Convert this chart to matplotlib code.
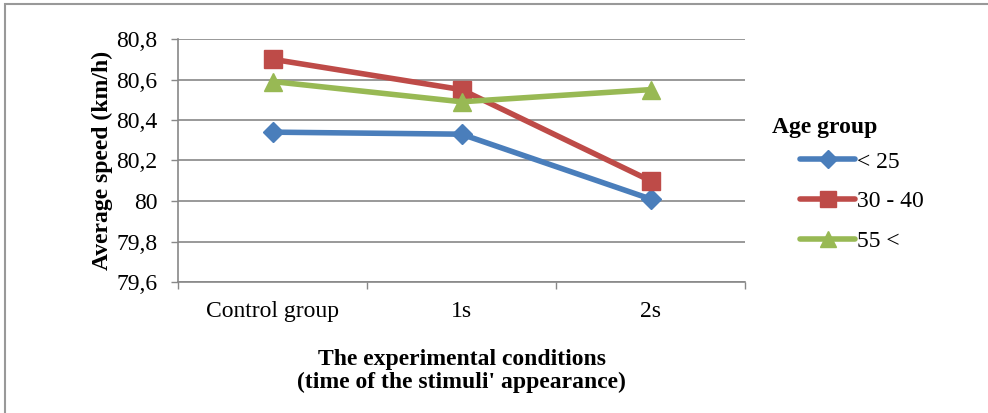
import matplotlib
matplotlib.use("Agg")
import matplotlib.pyplot as plt
from matplotlib.lines import Line2D
from matplotlib.patches import Rectangle

categories = ["Control group", "1s", "2s"]
series_names = ["< 25", "30 - 40", "55 <"]
under25 = [80.34, 80.33, 80.01]
age30_40 = [80.70, 80.55, 80.10]
over55 = [80.59, 80.49, 80.55]
y_ticks = [79.6, 79.8, 80.0, 80.2, 80.4, 80.6, 80.8]
y_tick_labels = ["79,6", "79,8", "80", "80,2", "80,4", "80,6", "80,8"]

colors = ["#4a7ebb", "#be4b48", "#98b954"]
markers = ["D", "s", "^"]
msizes = [10, 12.5, 13]

plt.rcParams["font.family"] = ["Liberation Serif", "DejaVu Serif"]
FS = 17

W, H = 988, 413
fig = plt.figure(figsize=(W / 100, H / 100), dpi=100)

# outer frame (only top/left visible)
fig.patches.append(Rectangle((5 / W, -0.05), 1.1, 1 - 4 / H + 0.05, transform=fig.transFigure,
                             fill=False, edgecolor="#999999", linewidth=1.5))

ax = fig.add_axes([178 / W, 1 - 282 / H, (745 - 178) / W, (282 - 39) / H])
x = list(range(len(categories)))
for vals, c, m, ms, name in zip([under25, age30_40, over55], colors, markers, msizes, series_names):
    ax.plot(x, vals, color=c, marker=m, markersize=ms, linewidth=4, label=name,
            markeredgecolor=c, solid_capstyle="round")

ax.set_xlim(-0.5, 2.5)
ax.set_ylim(79.6, 80.8)
ax.set_yticks(y_ticks)
ax.set_yticklabels(y_tick_labels, fontsize=FS)
ax.set_xticks(x)
ax.set_xticklabels(categories, fontsize=FS)
ax.set_xticks([-0.5, 0.5, 1.5, 2.5], minor=True)
ax.tick_params(axis="x", which="major", length=0, pad=14)
ax.tick_params(axis="x", which="minor", length=5, color="#888888", width=1)
ax.tick_params(axis="y", length=5, color="#888888", width=1, pad=10)
ax.grid(axis="y", color="#888888", linewidth=1.2)
ax.set_axisbelow(True)
for s in ["top", "right"]:
    ax.spines[s].set_visible(False)
for s in ["left", "bottom"]:
    ax.spines[s].set_color("#888888")
    ax.spines[s].set_linewidth(1.2)

ax.set_ylabel("Average speed (km/h)", fontsize=FS, fontweight="bold", labelpad=2)
ax.set_xlabel("The experimental conditions\n(time of the stimuli' appearance)", fontsize=FS,
              fontweight="bold", labelpad=19, linespacing=1.15)

handles = [Line2D([0], [0], color=c, marker=m, markersize=ms * 0.9, linewidth=4,
                  markeredgecolor=c, solid_capstyle="round")
           for c, m, ms in zip(colors, markers, msizes)]
fig.text(772 / W, 1 - 128 / H, "Age group", fontsize=FS, fontweight="bold", va="center", ha="left")
leg = fig.legend(handles, series_names, loc="upper left", bbox_to_anchor=(800 / W, 1 - 151 / H),
                 frameon=False, fontsize=FS, handlelength=2.35, handletextpad=0.05,
                 labelspacing=0.78, borderpad=0, borderaxespad=0)

fig.savefig("out.png", dpi=100)
